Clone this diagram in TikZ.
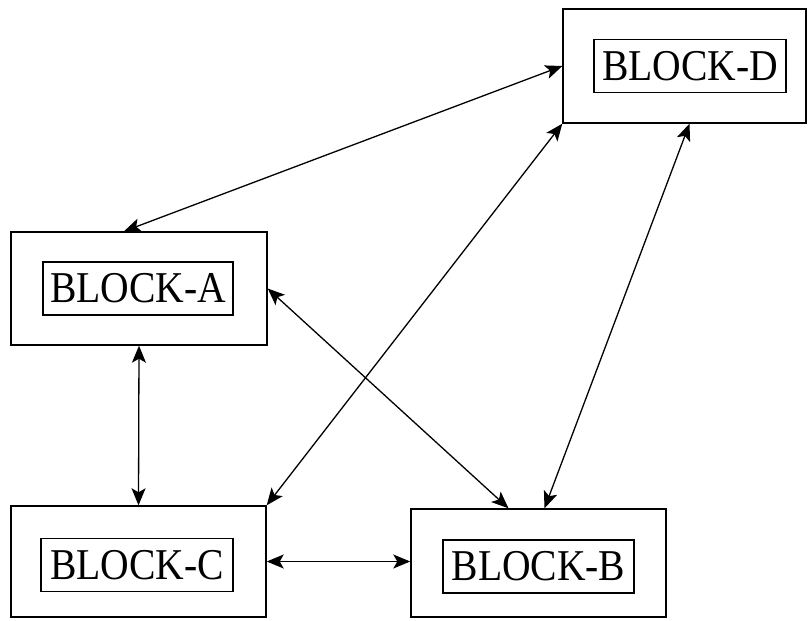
\documentclass[tikz,border=0pt]{standalone}
\usepackage{fontspec}
\setmainfont[FakeStretch=0.9]{Liberation Serif}
\usepackage{tikz}
\usetikzlibrary{arrows.meta}

\tikzset{
  >/.tip={Stealth[length=17pt,width=14pt,inset=4pt]},
  outer/.style={draw,line width=1.4pt,minimum width=#1,inner sep=0pt},
  label/.style={draw,line width=1.2pt,minimum height=53pt,inner sep=0pt,
    font=\fontsize{44}{50}\selectfont},
}

\begin{document}
\begin{tikzpicture}[x=1pt,y=-1pt,<->,line width=1.3pt]
  \useasboundingbox (0,0) rectangle (809,621);
  % outer blocks
  \node[outer=243pt,minimum height=114pt] (D) at (684.5,66) {};
  \node[outer=256pt,minimum height=113pt] (A) at (139,288.5) {};
  \node[outer=255pt,minimum height=111pt] (C) at (138.5,561.5) {};
  \node[outer=255pt,minimum height=108pt] (B) at (538.5,563) {};
  % labels
  \node[label,minimum width=192pt] (Dlab) at (690,66)    {BLOCK-D};
  \node[label,minimum width=190pt] (Alab) at (138,288.5) {BLOCK-A};
  \node[label,minimum width=192pt] (Clab) at (137,565)   {BLOCK-C};
  \node[label,minimum width=191pt] (Blab) at (538.5,566.5) {BLOCK-B};

  \path (D.west)		edge 	([xshift=-15pt]A.north)
	(D.south west)		edge 	(C.north east)
	([xshift=5pt]D.south)	edge 	([xshift=6pt]B.north)
	(A.east)		edge 	([xshift=-30pt]B.north)
	(A.south)		edge 	(C.north)
	(C.east)		edge 	(C.east -| B.west);
\end{tikzpicture}
\end{document}
